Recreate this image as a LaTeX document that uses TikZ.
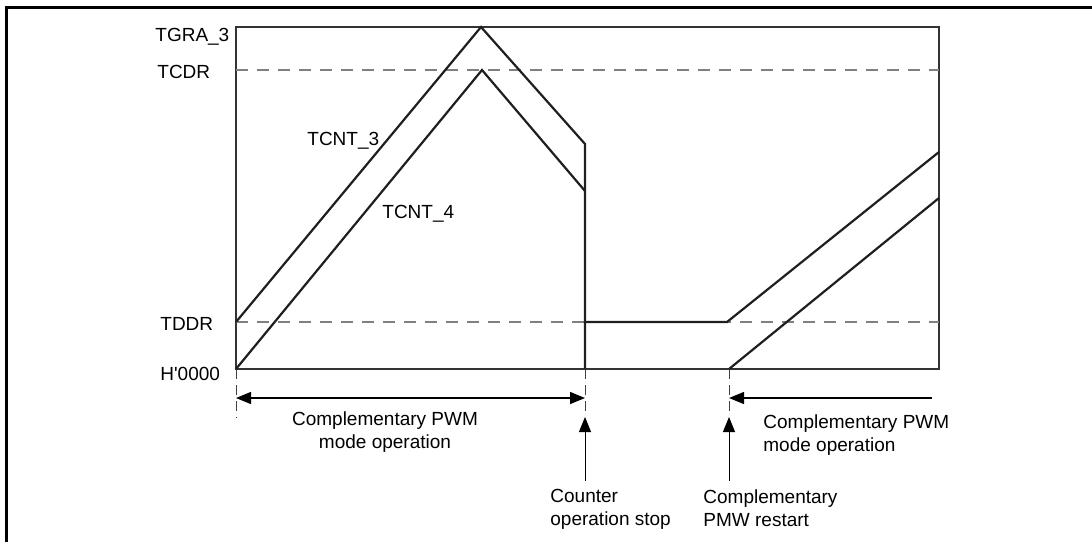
\documentclass[tikz,border=0pt]{standalone}
\usepackage{fontspec}
\setmainfont{Liberation Sans}
\usetikzlibrary{arrows.meta}

\tikzset{
  lbl/.style={font=\fontsize{9.5}{11.6}\selectfont, inner sep=0pt},
  wave/.style={black!88, line width=1.1pt, line join=miter},
  level/.style={black!50, line width=0.55pt, dash pattern=on 6pt off 4.5pt},
  guide/.style={black!75, line width=0.45pt, dash pattern=on 5pt off 3pt},
  tip/.style={-{Triangle[length=7.5pt,width=6pt]}},
  span/.style={line width=0.7pt, {Triangle[length=7.5pt,width=6pt]}-{Triangle[length=7.5pt,width=6pt]}},
}

\begin{document}
\begin{tikzpicture}[x=0.5pt, y=-0.5pt]
  \useasboundingbox (0,0) rectangle (1092,542);
  % frame
  \draw[line width=1.3pt] (6.5,542) -- (6.5,7.5) -- (1092,7.5);

  % key points
  \coordinate (o)    at (236,369);
  \coordinate (stop) at (585,369);
  \coordinate (rst)  at (729,369);

  % plot box and levels
  \draw[black!80, line width=0.55pt] (236,27) rectangle (939,369);
  \draw[level] (236,70) -- (939,70);
  \draw[level] (236,322) -- (939,322);

  \node[lbl, anchor=base west] (tgra) at (155,41)  {TGRA\_3};
  \node[lbl, anchor=base west] (tcdr) at (157,78)  {TCDR};
  \node[lbl, anchor=base west] (tddr) at (160,330) {TDDR};
  \node[lbl, anchor=base west] (zero) at (160,380) {H\textquotesingle0000};

  % counters
  \draw[wave] (236,322) -- (481,27) -- (585,144) -- (stop);
  \draw[wave] (o) -- (482,70) -- (585,191);
  \draw[wave] (585,322) -- (727,322) -- (939,152);
  \draw[wave] (rst) -- (939,198);
  \node[lbl, anchor=base west] (cnt3) at (307,145) {TCNT\_3};
  \node[lbl, anchor=base west] (cnt4) at (382,218) {TCNT\_4};

  % time marks
  \coordinate (oa)    at (236,418);
  \coordinate (stopa) at (585,412);
  \coordinate (rsta)  at (729,412);
  \draw[guide] (o) -- (oa);
  \draw[guide] (stop) -- (stopa);
  \draw[guide] (rst) -- (rsta);

  \coordinate (l1) at (236,398);
  \coordinate (l2) at (585,398);
  \coordinate (r1) at (932,398);
  \coordinate (r2) at (729,398);
  \draw[span] (l1) -- (l2);
  \draw[tip, line width=0.7pt] (r1) -- (r2);

  \node[lbl, anchor=north, align=center] (modeL) at (385,411)
    {Complementary PWM\\mode operation};
  \node[lbl, anchor=north west, align=left] (modeR) at (763,414)
    {Complementary PWM\\mode operation};

  \node[lbl, anchor=north west, align=left] (stopT) at (550,489)
    {Counter\\operation stop};
  \node[lbl, anchor=north west, align=left] (rstT) at (703,489)
    {Complementary\\PMW restart};
  \coordinate (s0) at (585,481);
  \coordinate (s1) at (585,417);
  \coordinate (t0) at (729,481);
  \coordinate (t1) at (729,417);
  \draw[tip, line width=0.5pt] (s0) -- (s1);
  \draw[tip, line width=0.5pt] (t0) -- (t1);
\end{tikzpicture}
\end{document}
